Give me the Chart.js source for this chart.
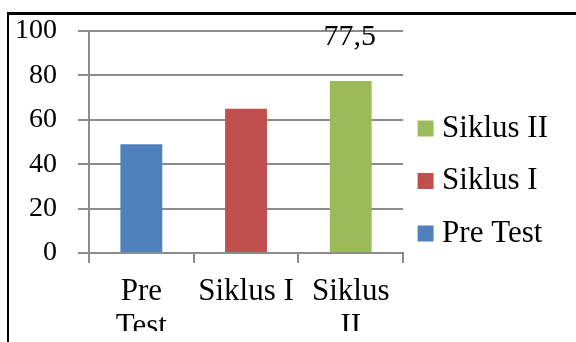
<!DOCTYPE html>
<html>
<head>
<meta charset="utf-8">
<script src="https://cdn.jsdelivr.net/npm/chart.js@4/dist/chart.umd.min.js"></script>
<style>
  body { margin: 0; background: #fff; }
  #frame { position: absolute; left: 7px; top: 12px; width: 700px; height: 500px;
           border-left: 2px solid #000; border-top: 3px solid #000; }
  #myChart { position: absolute; left: 0; top: 0; }
</style>
</head>
<body>
<div id="frame"></div>
<canvas id="myChart" width="576" height="342"></canvas>
<script>
const categories = [['Pre', 'Test'], 'Siklus I', ['Siklus', 'II']];
const seriesNames = ['Pre Test', 'Siklus I', 'Siklus II'];
const values = [49, 65, 77.5];
const barColors = ['#4F81BD', '#C0504D', '#9BBB59'];
const showValue = [false, false, true];
const yTicks = [0, 20, 40, 60, 80, 100];

const serif = '"Liberation Serif", "Times New Roman", serif';
const gridGray = '#8c8c8c';

// label "77,5" at the top of the plot, above the Siklus II bar
const valueLabels = {
    id: 'valueLabels',
    afterDatasetsDraw(chart) {
        const ctx = chart.ctx;
        const meta = chart.getDatasetMeta(0);
        ctx.save();
        ctx.font = '30px ' + serif;
        ctx.fillStyle = '#000';
        ctx.textAlign = 'center';
        ctx.textBaseline = 'middle';
        meta.data.forEach((bar, i) => {
            if (!showValue[i]) return;
            ctx.fillText(String(values[i]).replace('.', ','), bar.x - 1, chart.chartArea.top + 6);
        });
        ctx.restore();
    }
};

const ctx = document.getElementById('myChart').getContext('2d');
const myChart = new Chart(ctx, {
    type: 'bar',
    data: {
        labels: categories,
        datasets: [{
            data: values,
            backgroundColor: barColors,
            borderWidth: 0,
            barPercentage: 0.4,
            categoryPercentage: 1
        }]
    },
    options: {
        responsive: false,
        animation: false,
        layout: { padding: { left: 15, top: 31, right: 18, bottom: 11 } },
        plugins: {
            tooltip: { enabled: false },
            legend: {
                position: 'right',
                maxWidth: 160,
                labels: {
                    font: { family: serif, size: 31 },
                    color: '#000',
                    boxWidth: 2,
                    boxHeight: 2,
                    padding: 21.5,
                    generateLabels: () => seriesNames.map((name, i) => ({
                        text: name,
                        fillStyle: barColors[i],
                        strokeStyle: barColors[i],
                        lineWidth: 14,
                        fontColor: '#000',
                        index: i
                    })).reverse()
                },
                onClick: () => {}
            }
        },
        scales: {
            x: {
                grid: { drawOnChartArea: false, tickLength: 10, color: gridGray, lineWidth: 2 },
                border: { color: gridGray, width: 2 },
                ticks: { font: { family: serif, size: 31, lineHeight: 1.13 }, color: '#000', padding: 11, maxRotation: 0 },
                afterFit: scale => { scale.height = 78; }
            },
            y: {
                min: 0,
                max: 100,
                afterBuildTicks: scale => { scale.ticks = yTicks.map(v => ({ value: v })); },
                grid: { color: gridGray, lineWidth: 2, tickLength: 11 },
                border: { color: gridGray, width: 2 },
                ticks: { font: { family: serif, size: 28, lineHeight: 0.6 }, color: '#000', padding: 21 },
                afterFit: scale => { scale.width = 74; }
            }
        }
    },
    plugins: [valueLabels]
});
</script>
</body>
</html>
